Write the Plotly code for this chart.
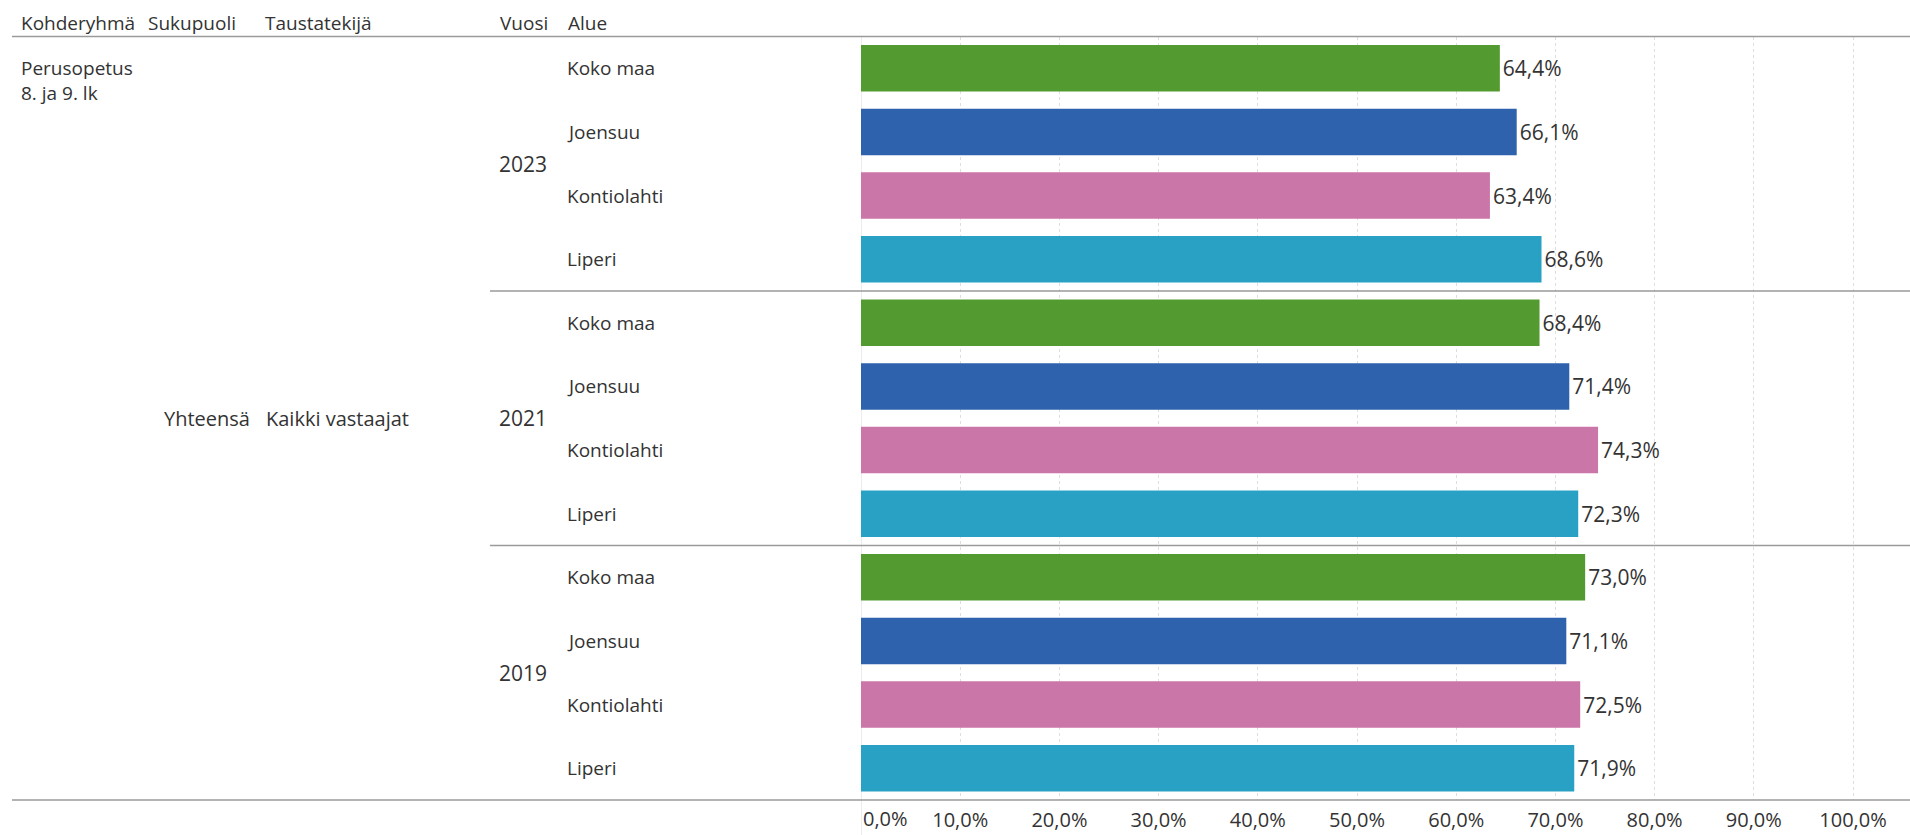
import plotly.graph_objects as go

# ---- data ----
years = ["2023", "2021", "2019"]
regions = ["Koko maa", "Joensuu", "Kontiolahti", "Liperi"]
values_2023 = [64.4, 66.1, 63.4, 68.6]
values_2021 = [68.4, 71.4, 74.3, 72.3]
values_2019 = [73.0, 71.1, 72.5, 71.9]
tick_values = [0, 10, 20, 30, 40, 50, 60, 70, 80, 90, 100]
header_labels = ["Kohderyhmä", "Sukupuoli", "Taustatekijä", "Vuosi", "Alue"]
kohderyhma = "Perusopetus<br>8. ja 9. lk"
sukupuoli = "Yhteensä"
taustatekija = "Kaikki vastaajat"

region_colors = {
    "Koko maa": "#539b30",
    "Joensuu": "#2f62ac",
    "Kontiolahti": "#cb76a9",
    "Liperi": "#29a1c4",
}

W, H = 1910, 835
FONT = "Open Sans"
TXT = "#333333"
FS = 19
FS_NUM = 21
FS_TICK = 20

def fmt(v):
    return f"{v:.1f}".replace(".", ",") + "%"

all_vals = [values_2023, values_2021, values_2019]
ys, xs, cols, texts = [], [], [], []
i = 0
for yi, yr in enumerate(years):
    for ri, rg in enumerate(regions):
        v = all_vals[yi][ri]
        ys.append(i)
        xs.append(v)
        cols.append(region_colors[rg])
        texts.append(fmt(v))
        i += 1
n_rows = i

def px_x(p):
    return p / W

def px_y(p):
    return 1 - p / H

plot_left = 861
plot_top = 36.5
plot_bottom = 800

fig = go.Figure()
fig.add_trace(go.Bar(
    orientation="h",
    x=xs, y=ys,
    marker=dict(color=cols, line=dict(width=0)),
    width=0.73,
    text=texts,
    textposition="outside",
    textfont=dict(family=FONT, size=FS_NUM, color=TXT),
    cliponaxis=False,
    hoverinfo="skip",
))

annotations = []
header_x = [19, 146, 263, 498, 566]
for lbl, hx in zip(header_labels, header_x):
    annotations.append(dict(text=lbl, x=px_x(hx), y=px_y(23), xref="paper", yref="paper",
                            xanchor="left", yanchor="middle", showarrow=False,
                            font=dict(family=FONT, size=FS, color=TXT)))
annotations.append(dict(text=kohderyhma, x=px_x(19), y=px_y(53), xref="paper", yref="paper",
                        xanchor="left", yanchor="top", showarrow=False, align="left",
                        font=dict(family=FONT, size=FS, color=TXT)))
mid = (n_rows - 1) / 2
annotations.append(dict(text=sukupuoli, x=px_x(162), y=mid, xref="paper", yref="y",
                        xanchor="left", yanchor="middle", showarrow=False,
                        font=dict(family=FONT, size=20, color=TXT)))
annotations.append(dict(text=taustatekija, x=px_x(264), y=mid, xref="paper", yref="y",
                        xanchor="left", yanchor="middle", showarrow=False,
                        font=dict(family=FONT, size=20, color=TXT)))
for yi, yr in enumerate(years):
    annotations.append(dict(text=yr, x=px_x(497), y=yi * len(regions) + (len(regions) - 1) / 2,
                            xref="paper", yref="y", xanchor="left", yanchor="middle",
                            showarrow=False, font=dict(family=FONT, size=FS_NUM, color=TXT)))
    for ri, rg in enumerate(regions):
        annotations.append(dict(text=rg, x=px_x(565), y=yi * len(regions) + ri,
                                xref="paper", yref="y", xanchor="left", yanchor="middle",
                                showarrow=False, font=dict(family=FONT, size=FS, color=TXT)))
# first tick label kept inside the pane (left aligned at zero)
annotations.append(dict(text=fmt(tick_values[0]), x=tick_values[0], y=px_y(818),
                        xref="x", yref="paper", xanchor="left", yanchor="middle",
                        showarrow=False, font=dict(family=FONT, size=FS_TICK, color=TXT)))

shapes = []
line_col = "#9a9a9a"
shapes.append(dict(type="line", xref="paper", yref="paper", x0=px_x(12), x1=1,
                   y0=px_y(plot_top), y1=px_y(plot_top), line=dict(color=line_col, width=1.5)))
shapes.append(dict(type="line", xref="paper", yref="paper", x0=px_x(12), x1=1,
                   y0=px_y(plot_bottom), y1=px_y(plot_bottom), line=dict(color=line_col, width=1.5)))
for yi in range(1, len(years)):
    yy = yi * len(regions) - 0.5
    shapes.append(dict(type="line", xref="paper", yref="y", x0=px_x(490), x1=1,
                       y0=yy, y1=yy, line=dict(color=line_col, width=1.5)))
shapes.append(dict(type="line", xref="x", yref="paper", x0=0, x1=0,
                   y0=0, y1=px_y(plot_top), line=dict(color="#d9d9d9", width=1), layer="below"))

fig.update_layout(
    width=W, height=H,
    margin=dict(l=0, r=0, t=0, b=0, pad=0, autoexpand=False),
    paper_bgcolor="white", plot_bgcolor="white",
    showlegend=False,
    xaxis=dict(
        domain=[px_x(plot_left), 1],
        range=[0, 100 * (W - plot_left) / (1853 - plot_left)],
        tickvals=tick_values,
        ticktext=[""] + [fmt(t) for t in tick_values[1:]],
        showgrid=True, gridcolor="#dedede", griddash="dot", gridwidth=1,
        zeroline=False, showline=False, ticks="",
        ticklabelstandoff=6,
        tickfont=dict(family=FONT, size=FS_TICK, color=TXT),
        fixedrange=True, automargin=False,
    ),
    yaxis=dict(
        domain=[px_y(plot_bottom), px_y(plot_top)],
        range=[n_rows - 0.5, -0.5],
        showticklabels=False, showgrid=False, zeroline=False, showline=False,
        fixedrange=True, automargin=False,
    ),
    annotations=annotations,
    shapes=shapes,
)

fig.write_html(
    "out.html",
    config={"displayModeBar": False},
    post_script="document.body.style.margin='0px';document.body.style.overflow='hidden';",
)
